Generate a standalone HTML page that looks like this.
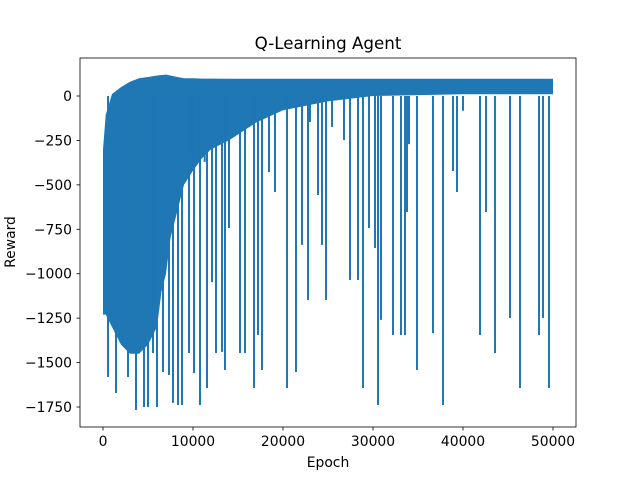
<!DOCTYPE html>
<html><head><meta charset="utf-8"><style>
body{margin:0;background:#fff}
svg text{font-family:"DejaVu Sans","Liberation Sans",sans-serif;fill:#000}
</style></head><body>
<svg id="chart" width="640" height="480" xmlns="http://www.w3.org/2000/svg">
<rect width="640" height="480" fill="#fff"/>
<text x="328" y="49" font-size="16.7" text-anchor="middle">Q-Learning Agent</text>
<g id="plot"></g>
<rect x="80" y="58" width="496" height="369" fill="none" stroke="#000" stroke-width="0.8"/>
<g id="xt"></g>
<g id="yt"></g>
<text x="328" y="467" font-size="13.9" text-anchor="middle">Epoch</text>
<text x="0" y="0" font-size="13.9" text-anchor="middle" transform="translate(15,242) rotate(-90)">Reward</text>
</svg>
<script>
const bodyEpochs=[0,300,1000,2000,3000,4000,5000,6000,6500,7000,7500,8000,8500,9000,10000,11000,12000,14000,17000,20000,25000,30000,40000,50000];
const bodyTop=[-300,-107,11,50,80,100,107,115,118,120,115,110,105,100,100,98,98,97,97,97,97,97,97,97];
const bodyBottom=[-1230,-1230,-1300,-1400,-1450,-1450,-1400,-1300,-1100,-1000,-800,-700,-600,-500,-420,-350,-300,-250,-150,-80,-30,0,10,10];
const spikeEpochs=[556,1444,2778,3667,4556,5000,5556,6000,6667,7333,7778,8333,8778,9556,10111,10778,11556,12111,12556,13222,13556,14000,15222,15778,16778,17222,17667,18444,9700,11300,19111,20444,21444,22111,22778,23889,24333,24778,26778,27444,28333,28889,29556,30222,30556,30889,32222,33111,33556,33778,34889,36667,37778,39333,41889,42556,43556,45222,46333,48444,48889,49556,23000,25444,34000,38889,40000];
const spikeValues=[-1581,-1671,-1581,-1767,-1750,-1750,-1446,-1750,-1553,-1570,-1727,-1739,-1739,-1446,-1559,-1739,-1643,-1047,-1446,-1440,-1542,-743,-1446,-1446,-1643,-1345,-1542,-428,-332,-371,-540,-1643,-1553,-838,-1148,-557,-838,-1148,-248,-1035,-1035,-1643,-743,-855,-1739,-1260,-1345,-1345,-1345,-653,-1542,-1334,-1739,-540,-1345,-653,-1446,-1249,-1643,-1345,-1249,-1643,-146,-174,-271,-422,-83];
const xTicks=[0,10000,20000,30000,40000,50000];
const yTicks=[0,-250,-500,-750,-1000,-1250,-1500,-1750];
const X=e=>103+e*0.009;
const Y=v=>96-v*0.17772;
const NS="http://www.w3.org/2000/svg";
const plot=document.getElementById('plot');
let pts=bodyEpochs.map((e,i)=>X(e)+','+Y(bodyTop[i]));
for(let i=bodyEpochs.length-1;i>=0;i--)pts.push(X(bodyEpochs[i])+','+Y(bodyBottom[i]));
const poly=document.createElementNS(NS,'polygon');
poly.setAttribute('points',pts.join(' '));
poly.setAttribute('fill','#1f77b4');


plot.appendChild(poly);
spikeEpochs.forEach((e,i)=>{
 const l=document.createElementNS(NS,'line');
 l.setAttribute('x1',X(e));l.setAttribute('x2',X(e));
 l.setAttribute('y1',Y(0));l.setAttribute('y2',Y(spikeValues[i]));
 l.setAttribute('stroke','#1f77b4');l.setAttribute('stroke-width','2');
 
 
 plot.appendChild(l);
});
const xt=document.getElementById('xt');
xTicks.forEach(t=>{
 const g=document.createElementNS(NS,'g');
 
 
 g.innerHTML=`<line x1="${X(t)}" x2="${X(t)}" y1="427" y2="430.5" stroke="#000" stroke-width="0.8"/><text x="${X(t)}" y="446" font-size="13.9" text-anchor="middle">${t}</text>`;
 xt.appendChild(g);
});
const yt=document.getElementById('yt');
yTicks.forEach(t=>{
 const g=document.createElementNS(NS,'g');
 
 
 g.innerHTML=`<line x1="76.5" x2="80" y1="${Y(t)}" y2="${Y(t)}" stroke="#000" stroke-width="0.8"/><text x="72" y="${Y(t)+5}" font-size="13.9" text-anchor="end">${t<0?'\u2212'+(-t):t}</text>`;
 yt.appendChild(g);
});
</script>
</body></html>
